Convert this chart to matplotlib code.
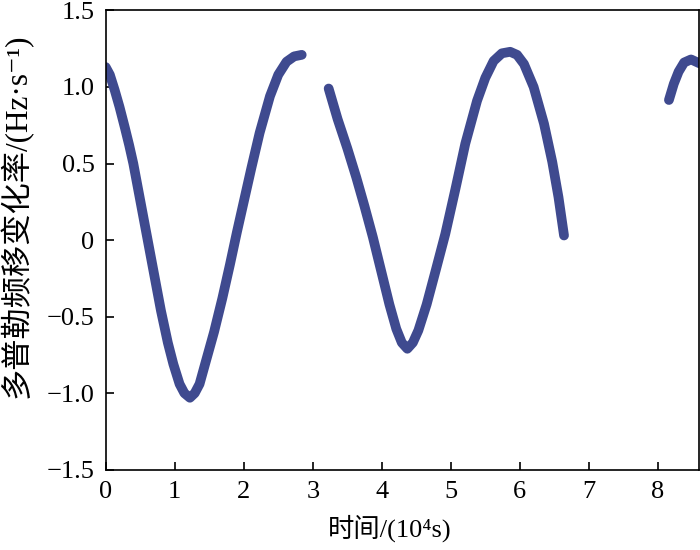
import matplotlib
matplotlib.use("Agg")
import matplotlib.pyplot as plt

plt.rcParams['font.family'] = ['Liberation Serif', 'Noto Sans CJK SC', 'DejaVu Sans']

# Segment 1
seg1_x = [0.00, 0.06, 0.13, 0.20, 0.28, 0.34, 0.40, 0.50, 0.60, 0.70, 0.80, 0.90, 0.98, 1.07, 1.14, 1.22,
          1.29, 1.36, 1.44, 1.57, 1.69, 1.80, 1.90, 2.00, 2.11, 2.23, 2.38, 2.50, 2.62, 2.73, 2.84]
seg1_y = [1.13, 1.08, 0.98, 0.87, 0.73, 0.62, 0.50, 0.26, 0.02, -0.22, -0.46, -0.67, -0.81, -0.94, -1.00, -1.03,
          -1.00, -0.94, -0.81, -0.60, -0.38, -0.16, 0.05, 0.25, 0.47, 0.70, 0.94, 1.08, 1.165, 1.20, 1.21]
# Segment 2
seg2_x = [3.23, 3.36, 3.50, 3.63, 3.75, 3.87, 3.99, 4.11, 4.21, 4.29, 4.37, 4.45, 4.53, 4.65, 4.78,
          4.92, 5.065, 5.21, 5.38, 5.50, 5.62, 5.74, 5.86, 5.96, 6.06, 6.20, 6.35, 6.47, 6.56, 6.64]
seg2_y = [0.99, 0.79, 0.60, 0.41, 0.22, 0.02, -0.20, -0.42, -0.58, -0.67, -0.71, -0.67, -0.59, -0.42, -0.20,
          0.04, 0.33, 0.63, 0.91, 1.06, 1.17, 1.22, 1.23, 1.21, 1.15, 1.00, 0.76, 0.51, 0.28, 0.03]
# Segment 3
seg3_x = [8.16, 8.23, 8.30, 8.38, 8.48, 8.60]
seg3_y = [0.915, 1.02, 1.10, 1.16, 1.18, 1.155]

xticks = [0, 1, 2, 3, 4, 5, 6, 7, 8]
yticks = [1.5, 1.0, 0.5, 0, -0.5, -1.0, -1.5]
ytick_labels = ['1.5', '1.0', '0.5', '0', '\u22120.5', '\u22121.0', '\u22121.5']

color = '#3F4A8F'

fig = plt.figure(figsize=(7, 5.5), dpi=100)
ax = fig.add_axes([0.151, 0.146, 0.848, 0.835])

for xs, ys in [(seg1_x, seg1_y), (seg2_x, seg2_y), (seg3_x, seg3_y)]:
    ax.plot(xs, ys, color=color, lw=7.0, solid_capstyle='round', solid_joinstyle='round')

ax.set_xlim(0, 8.6)
ax.set_ylim(-1.5, 1.5)
ax.set_xticks(xticks)
ax.set_xticklabels([str(t) for t in xticks])
ax.set_yticks(yticks)
ax.set_yticklabels(ytick_labels)
ax.tick_params(direction='in', length=6, width=1.2, labelsize=19, pad=8,
               top=False, right=False)
for s in ax.spines.values():
    s.set_linewidth(1.2)
    s.set_color('black')

ax.set_xlabel('时间/(10\u2074s)', fontsize=19)
ax.set_ylabel('多普勒频移变化率/(Hz·s\u207b\u00b9)', fontsize=22.5)
ax.xaxis.set_label_coords(0.479, -0.097)
ax.yaxis.set_label_coords(-0.122, 0.553)

fig.savefig('out.png', dpi=100)
